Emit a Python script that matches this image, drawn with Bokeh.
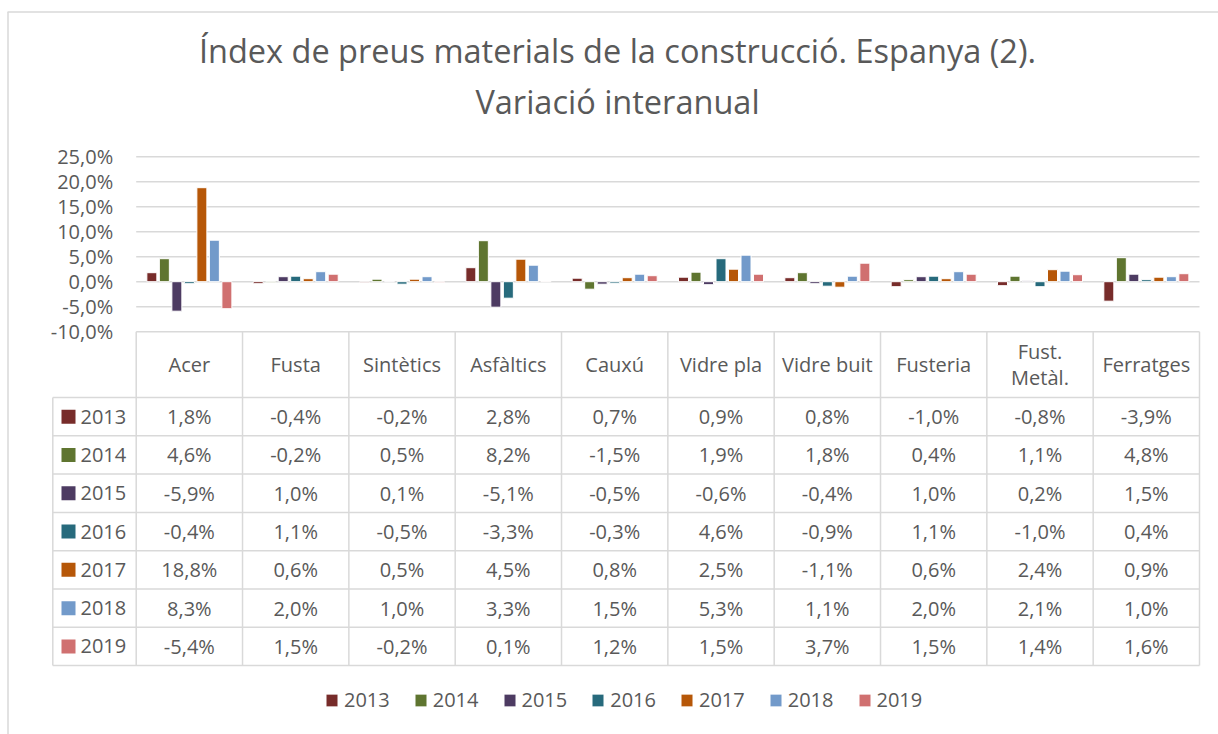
from bokeh.plotting import figure
from bokeh.models import Range1d, LinearAxis, FixedTicker, ColumnDataSource
from bokeh.transform import dodge
from bokeh.core.properties import value
from bokeh.embed import file_html
from bokeh.resources import INLINE

# ---------------- data ----------------
categories = ["Acer", "Fusta", "Sintètics", "Asfàltics", "Cauxú", "Vidre pla",
              "Vidre buit", "Fusteria", "Fust.\nMetàl.", "Ferratges"]
years = ["2013", "2014", "2015", "2016", "2017", "2018", "2019"]
v2013 = [1.8, -0.4, -0.2, 2.8, 0.7, 0.9, 0.8, -1.0, -0.8, -3.9]
v2014 = [4.6, -0.2, 0.5, 8.2, -1.5, 1.9, 1.8, 0.4, 1.1, 4.8]
v2015 = [-5.9, 1.0, 0.1, -5.1, -0.5, -0.6, -0.4, 1.0, 0.2, 1.5]
v2016 = [-0.4, 1.1, -0.5, -3.3, -0.3, 4.6, -0.9, 1.1, -1.0, 0.4]
v2017 = [18.8, 0.6, 0.5, 4.5, 0.8, 2.5, -1.1, 0.6, 2.4, 0.9]
v2018 = [8.3, 2.0, 1.0, 3.3, 1.5, 5.3, 1.1, 2.0, 2.1, 1.0]
v2019 = [-5.4, 1.5, -0.2, 0.1, 1.2, 1.5, 3.7, 1.5, 1.4, 1.6]
series = [v2013, v2014, v2015, v2016, v2017, v2018, v2019]
colors = ["#772C2A", "#5F7530", "#4D3B62", "#276A7C", "#B65708", "#729ACA", "#D07070"]
y_ticks = [-10, -5, 0, 5, 10, 15, 20, 25]
y_tick_labels = ["-10,0%", "-5,0%", "0,0%", "5,0%", "10,0%", "15,0%", "20,0%", "25,0%"]
title_lines = ["Índex de preus materials de la construcció. Espanya (2).",
               "Variació interanual"]

# ---------------- layout (screen px) ----------------
W, H = 1218, 734
COL_W = 106.33                  # table column width
X0 = 135.7                      # left edge of first category column
Y_ZERO = 281.2                  # screen y of 0 %
PX_PCT = 5.0                    # px per 1 %
HDR_TOP = 331.2
ROW0 = 397.0
ROW_H = 38.3
LEFT = 52.3
GRID = "#d9d9d9"
TXT = "#595959"
FONT = "Open Sans"

x_range = Range1d(-X0 / COL_W, (W - X0) / COL_W)
y_range = Range1d(-(H - Y_ZERO) / PX_PCT, Y_ZERO / PX_PCT)

p = figure(width=W, height=H, x_range=x_range, y_range=y_range,
           output_backend="svg", toolbar_location=None,
           x_axis_location=None, y_axis_location=None,
           min_border=0, outline_line_color=None)
p.grid.visible = False
p.extra_x_ranges = {"sx": Range1d(0, W)}
p.extra_y_ranges = {"sy": Range1d(H, 0)}

# outer chart border (left and top only, rest is cropped)
p.segment(x0=[7.5, 7], y0=[11.5, 11.5], x1=[7.5, W], y1=[H, 11.5],
          line_color=GRID, line_width=1.5, x_range_name="sx", y_range_name="sy")

# title
p.text(x=[617, 617], y=[50, 101], text=title_lines, text_align="center",
       text_baseline="middle", text_font=value(FONT), text_font_size="32.5px",
       text_color=TXT, x_range_name="sx", y_range_name="sy")

# gridlines from tick list
p.segment(x0=0, x1=len(categories), y0=y_ticks, y1=y_ticks,
          line_color=GRID, line_width=1.5)

# bars
src = ColumnDataSource(dict(x=[i + 0.5 for i in range(len(categories))],
                            **{yr: vals for yr, vals in zip(years, series)}))
step = 0.1176
for k, (yr, col) in enumerate(zip(years, colors)):
    p.vbar(x=dodge("x", (k - 3) * step), top=yr, bottom=0, width=0.094,
           source=src, fill_color=col, line_color="white", line_width=1,
           legend_label=yr)

# y axis
yax = LinearAxis(fixed_location=0, ticker=FixedTicker(ticks=y_ticks),
                 major_label_overrides={t: l for t, l in zip(y_ticks, y_tick_labels)},
                 axis_line_color=None, major_tick_line_color=None,
                 minor_tick_line_color=None, major_tick_out=0, major_tick_in=0,
                 major_label_standoff=23, major_label_text_font=FONT,
                 major_label_text_font_size="20px", major_label_text_color=TXT)
p.add_layout(yax, "left")

# data table
n = len(years)
right = X0 + len(categories) * COL_W
bottom = ROW0 + n * ROW_H
hy = [ROW0 + r * ROW_H for r in range(n + 1)]
p.segment(x0=[LEFT] * len(hy), x1=[right] * len(hy), y0=hy, y1=hy,
          line_color=GRID, line_width=1.5, x_range_name="sx", y_range_name="sy")
vx = [X0 + i * COL_W for i in range(len(categories) + 1)]
p.segment(x0=vx, x1=vx, y0=[HDR_TOP] * len(vx), y1=[bottom] * len(vx),
          line_color=GRID, line_width=1.5, x_range_name="sx", y_range_name="sy")
p.segment(x0=[LEFT], x1=[LEFT], y0=[ROW0], y1=[bottom],
          line_color=GRID, line_width=1.5, x_range_name="sx", y_range_name="sy")

p.text(x=[i + 0.5 for i in range(len(categories))], y=[(HDR_TOP + ROW0) / 2] * len(categories),
       text=categories, text_align="center", text_baseline="middle",
       text_font=value(FONT), text_font_size="20px", text_color=TXT,
       text_line_height=0.95, y_range_name="sy")


def fmt(v):
    return f"{v:.1f}".replace(".", ",") + "%"


for r, (yr, vals, col) in enumerate(zip(years, series, colors)):
    cy = ROW0 + (r + 0.5) * ROW_H
    p.text(x=[i + 0.5 for i in range(len(vals))], y=[cy] * len(vals),
           text=[fmt(v) for v in vals], text_align="center", text_baseline="middle",
           text_font=value(FONT), text_font_size="20px", text_color=TXT,
           y_range_name="sy")
    p.rect(x=[68], y=[cy], width=14, height=14, width_units="screen",
           height_units="screen", fill_color=col, line_color=None,
           x_range_name="sx", y_range_name="sy")
    p.text(x=[80], y=[cy], text=[yr], text_align="left", text_baseline="middle",
           text_font=value(FONT), text_font_size="20px", text_color=TXT,
           x_range_name="sx", y_range_name="sy")

# legend
lg = p.legend[0]
lg.orientation = "horizontal"
lg.location = (324, 21)
lg.label_text_font = FONT
lg.label_text_font_size = "20px"
lg.label_text_color = TXT
lg.glyph_width = 15
lg.glyph_height = 16
lg.label_standoff = 5
lg.spacing = 23
lg.padding = 0
lg.margin = 0
lg.border_line_color = None
lg.background_fill_alpha = 0

open("out.html", "w").write(file_html(p, INLINE))
